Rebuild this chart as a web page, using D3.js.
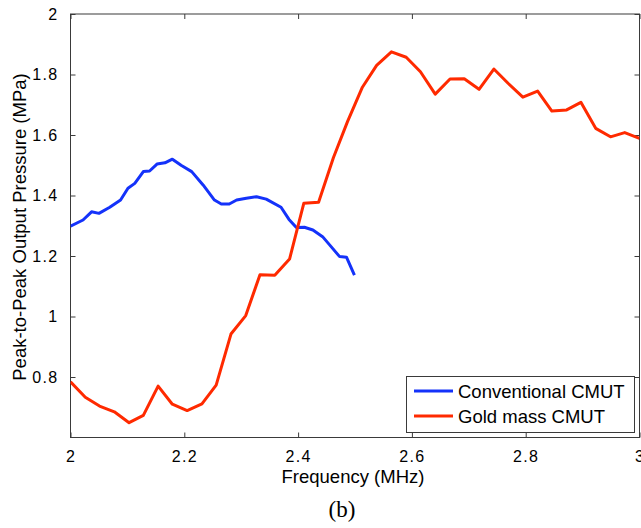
<!DOCTYPE html>
<html>
<head>
<meta charset="utf-8">
<script src="https://cdn.jsdelivr.net/npm/d3@7/dist/d3.min.js"></script>
<style>
  html, body { margin: 0; padding: 0; background: #fff; }
  svg { display: block; }
  text { font-family: Arial, "Liberation Sans", Helvetica, sans-serif; fill: #000; }
</style>
</head>
<body>
<svg id="chart" width="641" height="528"></svg>
<script>
// Frequency sweep of peak-to-peak output pressure (MHz, MPa)
const freqGold = [2.000, 2.026, 2.051, 2.077, 2.103, 2.128, 2.154, 2.179, 2.205, 2.231,
                  2.256, 2.282, 2.308, 2.333, 2.359, 2.385, 2.410, 2.436, 2.462, 2.487,
                  2.513, 2.538, 2.564, 2.590, 2.615, 2.641, 2.667, 2.692, 2.718, 2.744,
                  2.769, 2.795, 2.821, 2.846, 2.872, 2.897, 2.923, 2.949, 2.974, 3.000];
const goldMass = [0.784, 0.733, 0.704, 0.685, 0.649, 0.673, 0.770, 0.710, 0.689, 0.711,
                  0.773, 0.942, 1.003, 1.138, 1.136, 1.190, 1.374, 1.378, 1.525, 1.645,
                  1.758, 1.830, 1.875, 1.857, 1.809, 1.735, 1.785, 1.786, 1.751, 1.818,
                  1.771, 1.725, 1.745, 1.679, 1.683, 1.708, 1.622, 1.594, 1.608, 1.589];

const freqConv = [2.000, 2.022, 2.037, 2.050, 2.069, 2.088, 2.101, 2.113, 2.128, 2.139,
                  2.152, 2.166, 2.179, 2.195, 2.213, 2.233, 2.253, 2.265, 2.279, 2.292,
                  2.309, 2.327, 2.344, 2.370, 2.384, 2.397, 2.411, 2.426, 2.443, 2.458,
                  2.473, 2.485, 2.499];
const conventional = [1.299, 1.319, 1.346, 1.341, 1.361, 1.385, 1.424, 1.440, 1.479, 1.481,
                      1.504, 1.508, 1.520, 1.499, 1.479, 1.435, 1.385, 1.372, 1.372, 1.385,
                      1.391, 1.396, 1.388, 1.361, 1.321, 1.294, 1.295, 1.286, 1.264, 1.231,
                      1.198, 1.196, 1.137];

const seriesNames = ["Conventional CMUT", "Gold mass CMUT"];
const seriesColors = ["#1432fa", "#ff2a00"];

const xTicks = [2, 2.2, 2.4, 2.6, 2.8, 3];
const xTickLabels = ["2", "2.2", "2.4", "2.6", "2.8", "3"];
const yTicks = [0.8, 1, 1.2, 1.4, 1.6, 1.8, 2];
const yTickLabels = ["0.8", "1", "1.2", "1.4", "1.6", "1.8", "2"];

const svg = d3.select("#chart");
const plot = { left: 70.5, right: 639.5, top: 14, bottom: 437.5 };

const x = d3.scaleLinear().domain([2, 3]).range([plot.left, plot.right]);
const y = d3.scaleLinear().domain([0.6, 2]).range([plot.bottom, plot.top]);

const axisColor = "#3a3a3a";
const tickLen = 5;

// Box-style axes with inward ticks on all four sides
function styleAxis(g) {
  g.select(".domain").remove();
  g.selectAll(".tick line").attr("stroke", axisColor).attr("stroke-width", 1);
  g.selectAll(".tick text")
    .style("font-size", "16px")
    .style("letter-spacing", "1.3px")
    .attr("fill", "#000");
}

svg.append("g")
  .attr("transform", `translate(0,${plot.bottom})`)
  .call(d3.axisBottom(x).tickValues(xTicks).tickFormat((d, i) => xTickLabels[i])
        .tickSizeInner(-tickLen).tickSizeOuter(0).tickPadding(13))
  .call(styleAxis);

svg.append("g")
  .attr("transform", `translate(0,${plot.top})`)
  .call(d3.axisTop(x).tickValues(xTicks).tickFormat("")
        .tickSizeInner(-tickLen).tickSizeOuter(0))
  .call(styleAxis);

svg.append("g")
  .attr("transform", `translate(${plot.left},0)`)
  .call(d3.axisLeft(y).tickValues(yTicks).tickFormat((d, i) => yTickLabels[i])
        .tickSizeInner(-tickLen).tickSizeOuter(0).tickPadding(12))
  .call(styleAxis);

svg.append("g")
  .attr("transform", `translate(${plot.right},0)`)
  .call(d3.axisRight(y).tickValues(yTicks).tickFormat("")
        .tickSizeInner(-tickLen).tickSizeOuter(0))
  .call(styleAxis);

// Frame
svg.append("rect")
  .attr("x", plot.left).attr("y", plot.top)
  .attr("width", plot.right - plot.left).attr("height", plot.bottom - plot.top)
  .attr("fill", "none").attr("stroke", axisColor).attr("stroke-width", 1);

// Curves
const clip = svg.append("clipPath").attr("id", "plot-clip")
  .append("rect")
  .attr("x", plot.left).attr("y", plot.top)
  .attr("width", plot.right - plot.left).attr("height", plot.bottom - plot.top);

const line = d3.line().x(d => x(d[0])).y(d => y(d[1]));
const curves = [
  d3.zip(freqConv, conventional),
  d3.zip(freqGold, goldMass)
];

svg.append("g").attr("clip-path", "url(#plot-clip)")
  .selectAll("path")
  .data(curves)
  .join("path")
  .attr("d", line)
  .attr("fill", "none")
  .attr("stroke", (d, i) => seriesColors[i])
  .attr("stroke-width", 3)
  .attr("stroke-linejoin", "round")
  .attr("stroke-linecap", "butt");

// Legend
const legend = svg.append("g");
legend.append("rect")
  .attr("x", 406.5).attr("y", 376.5)
  .attr("width", 228).attr("height", 56)
  .attr("fill", "#fff").attr("stroke", axisColor).attr("stroke-width", 1);

seriesNames.forEach((name, i) => {
  const cy = 391 + i * 25;
  legend.append("line")
    .attr("x1", 414).attr("x2", 453)
    .attr("y1", cy).attr("y2", cy)
    .attr("stroke", seriesColors[i]).attr("stroke-width", 3);
  legend.append("text")
    .attr("x", 458).attr("y", cy + 6.5)
    .style("font-size", "18.5px")
    .text(name);
});

// Axis titles
svg.append("text")
  .attr("x", 353).attr("y", 483)
  .attr("text-anchor", "middle")
  .style("font-size", "18.5px")
  .text("Frequency (MHz)");

svg.append("text")
  .attr("transform", "translate(26,227) rotate(-90)")
  .attr("text-anchor", "middle")
  .style("font-size", "18.5px")
  .text("Peak-to-Peak Output Pressure (MPa)");

// Panel caption
svg.append("text")
  .attr("x", 342).attr("y", 517)
  .attr("text-anchor", "middle")
  .style("font-family", "'Liberation Serif', 'Times New Roman', serif")
  .style("font-size", "23px")
  .text("(b)");
</script>
</body>
</html>
